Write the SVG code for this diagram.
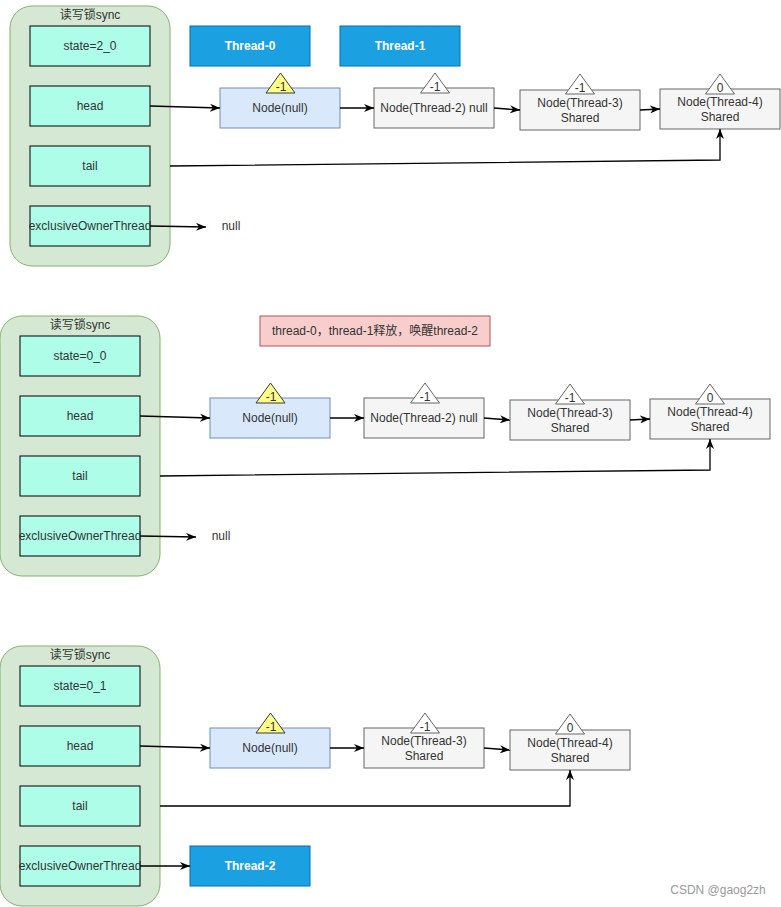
<svg xmlns="http://www.w3.org/2000/svg" width="781" height="907" viewBox="0 0 781 907">
<style>
text{font-family:"Liberation Sans","Noto Sans CJK SC",Arial,sans-serif;font-size:12px;text-anchor:middle}
.cont{fill:#d5e8d4;stroke:#82b366;stroke-width:1}
.fld{fill:#adfde8;stroke:#000;stroke-width:1}
.thr{fill:#1ba1e2;stroke:#006eaf;stroke-width:1}
.thrt{fill:#fff;font-weight:bold}
.blue{fill:#dae8fc;stroke:#6c8ebf;stroke-width:1}
.gray{fill:#f5f5f5;stroke:#666;stroke-width:1}
.tri{fill:#fff;stroke:#666;stroke-width:1}
.ytri{fill:#ffff88;stroke:#36393d;stroke-width:1}
.pink{fill:#f8cecc;stroke:#b85450;stroke-width:1}
.dk{fill:#333}
.bk{fill:#000}
.conn path{fill:none;stroke:#000;stroke-width:1.3;marker-end:url(#arr)}
</style>
<defs>
<marker id="arr" viewBox="0 0 10 8" refX="10" refY="4" markerWidth="10" markerHeight="8" markerUnits="userSpaceOnUse" orient="auto">
<path d="M0,0 L10,4 L0,8 L3,4 Z" fill="#000"/>
</marker>
</defs>

<!-- ===== Section 1 ===== -->
<g id="sync1">
<rect class="cont" x="10" y="6" width="160" height="260" rx="22"/>
<text x="90" y="19" class="dk">读写锁sync</text>
</g>
<g id="state1"><rect class="fld" x="30" y="26" width="120" height="40"/><text x="90" y="50" class="dk">state=2_0</text></g>
<g id="head1"><rect class="fld" x="30" y="86" width="120" height="40"/><text x="90" y="110" class="dk">head</text></g>
<g id="tail1"><rect class="fld" x="30" y="146" width="120" height="40"/><text x="90" y="170" class="dk">tail</text></g>
<g id="excl1"><rect class="fld" x="30" y="206" width="120" height="40"/><text x="90" y="230" class="dk">exclusiveOwnerThread</text></g>
<g id="thread0"><rect class="thr" x="190" y="26" width="120" height="40"/><text x="250" y="50" class="thrt">Thread-0</text></g>
<g id="thread1"><rect class="thr" x="340" y="26" width="120" height="40"/><text x="400" y="50" class="thrt">Thread-1</text></g>
<g id="null1"><text x="231" y="230" class="dk">null</text></g>
<g id="n1null"><rect class="blue" x="220" y="88" width="120" height="40"/><text x="280" y="112" class="dk">Node(null)</text>
<polygon class="ytri" points="280.5,73 266,93 295,93"/><text x="281" y="91" class="dk">-1</text></g>
<g id="n1t2"><rect class="gray" x="374" y="88" width="120" height="40"/><text x="434" y="112" class="dk">Node(Thread-2) null</text>
<polygon class="tri" points="435,73 420.5,93 449.5,93"/><text x="435" y="91" class="dk">-1</text></g>
<g id="n1t3"><rect class="gray" x="520" y="90" width="120" height="40"/><text x="580" y="107" class="dk">Node(Thread-3)</text><text x="580" y="121.5" class="dk">Shared</text>
<polygon class="tri" points="580,74 565.5,94 594.5,94"/><text x="580" y="92" class="dk">-1</text></g>
<g id="n1t4"><rect class="gray" x="660" y="89" width="120" height="40"/><text x="720" y="106" class="dk">Node(Thread-4)</text><text x="720" y="120.5" class="dk">Shared</text>
<polygon class="tri" points="720,74 705.5,94 734.5,94"/><text x="720" y="92" class="dk">0</text></g>

<!-- ===== Section 2 ===== -->
<g id="sync2">
<rect class="cont" x="0" y="316" width="160" height="260" rx="22"/>
<text x="80" y="329" class="dk">读写锁sync</text>
</g>
<g id="state2"><rect class="fld" x="20" y="336" width="120" height="40"/><text x="80" y="360" class="dk">state=0_0</text></g>
<g id="head2"><rect class="fld" x="20" y="396" width="120" height="40"/><text x="80" y="420" class="dk">head</text></g>
<g id="tail2"><rect class="fld" x="20" y="456" width="120" height="40"/><text x="80" y="480" class="dk">tail</text></g>
<g id="excl2"><rect class="fld" x="20" y="516" width="120" height="40"/><text x="80" y="540" class="dk">exclusiveOwnerThread</text></g>
<g id="note"><rect class="pink" x="260" y="316" width="230" height="30"/><text x="375" y="335" class="dk">thread-0，thread-1释放，唤醒thread-2</text></g>
<g id="null2"><text x="221" y="540" class="dk">null</text></g>
<g id="n2null"><rect class="blue" x="210" y="398" width="120" height="40"/><text x="270" y="422" class="dk">Node(null)</text>
<polygon class="ytri" points="270.5,383 256,403 285,403"/><text x="271" y="401" class="dk">-1</text></g>
<g id="n2t2"><rect class="gray" x="364" y="398" width="120" height="40"/><text x="424" y="422" class="dk">Node(Thread-2) null</text>
<polygon class="tri" points="425,383 410.5,403 439.5,403"/><text x="425" y="401" class="dk">-1</text></g>
<g id="n2t3"><rect class="gray" x="510" y="400" width="120" height="40"/><text x="570" y="417" class="dk">Node(Thread-3)</text><text x="570" y="431.5" class="dk">Shared</text>
<polygon class="tri" points="570,384 555.5,404 584.5,404"/><text x="570" y="402" class="dk">-1</text></g>
<g id="n2t4"><rect class="gray" x="650" y="399" width="120" height="40"/><text x="710" y="416" class="dk">Node(Thread-4)</text><text x="710" y="430.5" class="dk">Shared</text>
<polygon class="tri" points="710,384 695.5,404 724.5,404"/><text x="710" y="402" class="dk">0</text></g>

<!-- ===== Section 3 ===== -->
<g id="sync3">
<rect class="cont" x="0" y="646" width="160" height="260" rx="22"/>
<text x="80" y="659" class="dk">读写锁sync</text>
</g>
<g id="state3"><rect class="fld" x="20" y="666" width="120" height="40"/><text x="80" y="690" class="dk">state=0_1</text></g>
<g id="head3"><rect class="fld" x="20" y="726" width="120" height="40"/><text x="80" y="750" class="dk">head</text></g>
<g id="tail3"><rect class="fld" x="20" y="786" width="120" height="40"/><text x="80" y="810" class="dk">tail</text></g>
<g id="excl3"><rect class="fld" x="20" y="846" width="120" height="40"/><text x="80" y="870" class="dk">exclusiveOwnerThread</text></g>
<g id="thread2"><rect class="thr" x="190" y="846" width="120" height="40"/><text x="250" y="870" class="thrt">Thread-2</text></g>
<g id="n3null"><rect class="blue" x="210" y="728" width="120" height="40"/><text x="270" y="752" class="dk">Node(null)</text>
<polygon class="ytri" points="270.5,713 256,733 285,733"/><text x="271" y="731" class="dk">-1</text></g>
<g id="n3t3"><rect class="gray" x="364" y="728" width="120" height="40"/><text x="424" y="745" class="dk">Node(Thread-3)</text><text x="424" y="759.5" class="dk">Shared</text>
<polygon class="tri" points="425,713 410.5,733 439.5,733"/><text x="425" y="731" class="dk">-1</text></g>
<g id="n3t4"><rect class="gray" x="510" y="730" width="120" height="40"/><text x="570" y="747" class="dk">Node(Thread-4)</text><text x="570" y="761.5" class="dk">Shared</text>
<polygon class="tri" points="570,714 555.5,734 584.5,734"/><text x="570" y="732" class="dk">0</text></g>

<g class="conn" id="connectors">
<path d="M150,106 L220,108"/>
<path d="M340,108 L374,108"/>
<path d="M494,108 L520,110"/>
<path d="M640,110 L660,109"/>
<path d="M170,166 L720,160 L720,129"/>
<path d="M150,226 L206,227"/>

<path d="M140,416 L210,418"/>
<path d="M330,418 L364,418"/>
<path d="M484,418 L510,420"/>
<path d="M630,420 L650,419"/>
<path d="M160,476 L710,470 L710,439"/>
<path d="M140,536 L196,537"/>

<path d="M140,746 L210,748"/>
<path d="M330,748 L364,748"/>
<path d="M484,748 L510,750"/>
<path d="M160,806 L570,806 L570,770"/>
<path d="M140,866 L190,866"/>
</g>

<text x="718" y="894" style="fill:#999;font-size:12px">CSDN @gaog2zh</text>
</svg>
